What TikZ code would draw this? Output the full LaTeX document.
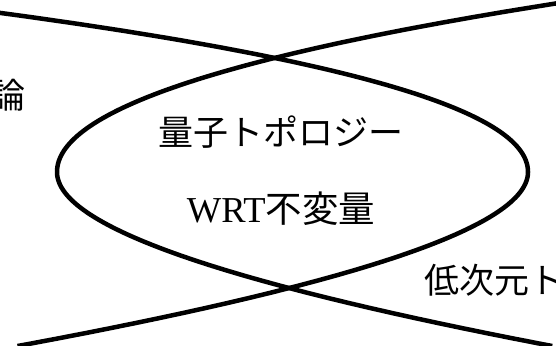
\documentclass[tikz,border=0pt]{standalone}
\usepackage{fontspec}
\setmainfont{Liberation Serif}
\newfontfamily\jp{Noto Sans CJK JP}
\begin{document}
\begin{tikzpicture}[x=1pt,y=-1pt,
  curve/.style={line width=4.5pt, line join=round},
  lbl/.style={inner sep=0pt, font=\fontsize{35}{40}\selectfont},
  lblb/.style={inner sep=0pt, font=\fontsize{36.5}{42}\selectfont}]
\useasboundingbox (0,0) rectangle (556,345);
\begin{scope}
\clip (0,0) rectangle (556,345);
% curve opening to the left (vertex on the right)
\draw[curve] plot[domain=10:172, samples=70, variable=\t]
  ({528-(0.016+0.000024*(172-\t))*(172-\t)*(172-\t)}, \t)
  -- plot[domain=172:346, samples=70, variable=\t]
  ({528-(0.0195-0.0000155*(\t-172))*(\t-172)*(\t-172)}, \t);
% curve opening to the right (vertex on the left)
\draw[curve] plot[domain=-6:172, samples=70, variable=\t]
  ({57+(0.015+0.000022*(172-\t))*(172-\t)*(172-\t)}, \t)
  -- plot[domain=172:346, samples=70, variable=\t]
  ({57+(0.019-0.0000164*(\t-172))*(\t-172)*(\t-172)}, \t);
\end{scope}
\node[lbl, anchor=east] (ron) at (26,95) {\jp 論};
\node[lbl] (qt) at (281,132.5) {\jp 量子トポロジー};
\node[lblb] (wrt) at (281,209) {WRT{\jp 不変量}};
\node[lbl, anchor=west] (low) at (424,280) {\jp 低次元ト};
\end{tikzpicture}
\end{document}
